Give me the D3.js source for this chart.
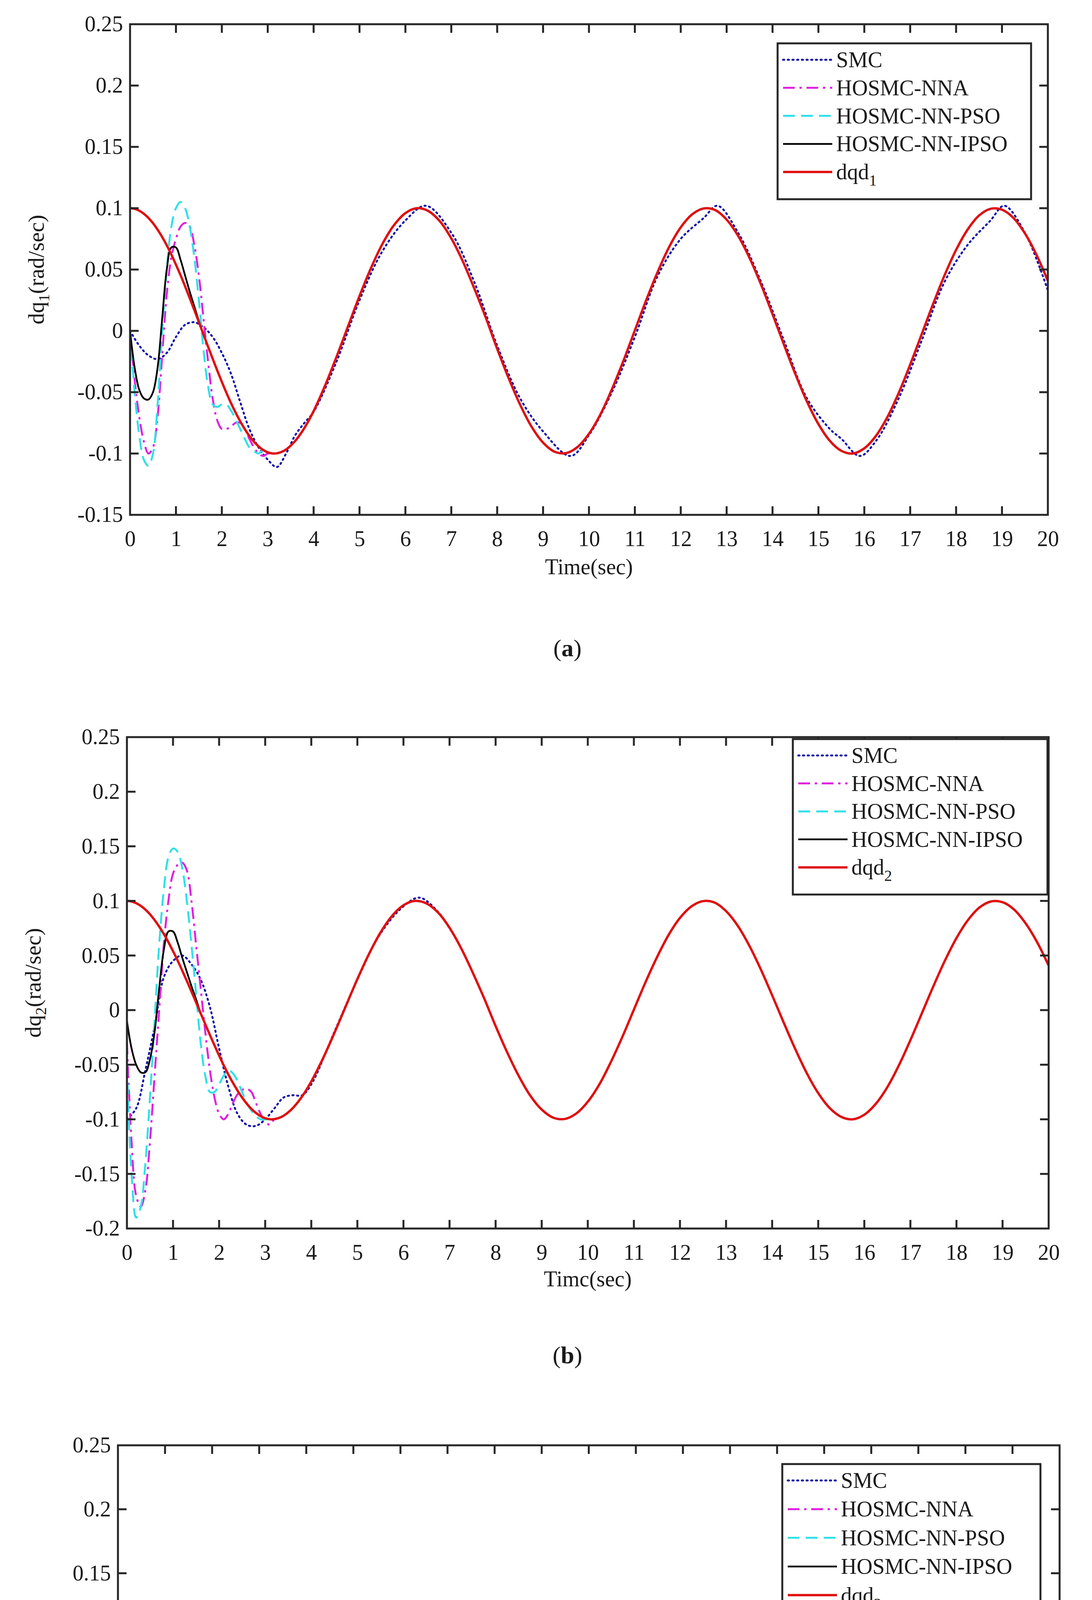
<!DOCTYPE html>
<html>
<head>
<meta charset="utf-8">
<script src="https://cdn.jsdelivr.net/npm/d3@7"></script>
<style>
  body { margin: 0; background: #fff; }
  text { font-family: "Liberation Serif", "DejaVu Serif", serif; fill: #1a1a1a; }
</style>
</head>
<body>
<svg id="chart" width="2796" height="5386"></svg>
<script>
// time grid: 0..4 step 0.1, then 4.25..20 step 0.25
const refTimes = d3.range(0, 4.001, 0.1).map(t => +t.toFixed(2))
  .concat(d3.range(4.25, 20.001, 0.25).map(t => +t.toFixed(2)));

// desired velocity (same in all three panels)
const refValues = [
  0.100, 0.0995, 0.098, 0.0955, 0.0921, 0.0878, 0.0825, 0.0765, 0.0697, 0.0622,
  0.054, 0.0454, 0.0362, 0.0267, 0.017, 0.0071, -0.0029, -0.0129, -0.0227, -0.0323,
  -0.0416, -0.0505, -0.0589, -0.0666, -0.0737, -0.0801, -0.0857, -0.0904, -0.0942, -0.0971,
  -0.099, -0.0999, -0.0998, -0.0987, -0.0967, -0.0936, -0.0897, -0.0848, -0.0791, -0.0726,
  -0.0654,
  -0.0446, -0.0211, 0.0037, 0.0284, 0.0512, 0.0709, 0.0861, 0.0960, 0.1000, 0.0977,
  0.0894, 0.0754, 0.0568, 0.0347, 0.0109, -0.0146, -0.0386, -0.0602, -0.0782, -0.0911,
  -0.0985, -0.0997, -0.0947, -0.0839, -0.0681, -0.0476, -0.0245, 0.0004, 0.0253, 0.0483,
  0.0686, 0.0844, 0.0950, 0.0998, 0.0985, 0.0907, 0.0775, 0.0594, 0.0377, 0.0136,
  -0.0113, -0.0355, -0.0576, -0.0760, -0.0897, -0.0978, -0.1000, -0.0958, -0.0858, -0.0705,
  -0.0506, -0.0275, -0.0028, 0.0220, 0.0454, 0.0660, 0.0825, 0.0940, 0.0995, 0.0988,
  0.0921, 0.0795, 0.0622, 0.0408
];

// transient parts (step 0.1 from t=0, SMC step 0.2); they join the reference afterwards
const ipsoA = [0, -0.03, -0.048, -0.055, -0.056, -0.05, -0.03, 0.01, 0.05, 0.068, 0.068, 0.058, 0.045, 0.032, 0.02, 0.008, -0.003, -0.013];
const nnaA = [0, -0.04, -0.07, -0.09, -0.1, -0.095, -0.07, -0.02, 0.03, 0.06, 0.075, 0.085, 0.088, 0.085, 0.07, 0.045, 0.01, -0.025, -0.055, -0.073, -0.08, -0.08, -0.078, -0.075, -0.075, -0.08, -0.088, -0.095, -0.1, -0.102, -0.1];
const psoA = [0, -0.05, -0.085, -0.105, -0.11, -0.1, -0.06, 0, 0.05, 0.085, 0.1, 0.105, 0.1, 0.085, 0.06, 0.025, -0.015, -0.045, -0.06, -0.062, -0.06, -0.06, -0.065, -0.072, -0.08, -0.088, -0.095, -0.098, -0.1];
const smcA = [0, -0.012, -0.02, -0.023, -0.018, -0.005, 0.005, 0.007, 0.003, -0.005, -0.018, -0.035, -0.058, -0.08, -0.095, -0.105, -0.111, -0.1, -0.085, -0.075, -0.066];
const smcTailA = [[4.5, -0.025], [5, 0.025], [5.5, 0.065], [6, 0.09], [6.45, 0.102], [7, 0.08], [7.5, 0.04], [8, -0.012], [8.5, -0.055], [9, -0.082], [9.6, -0.102], [10, -0.085], [10.5, -0.05], [11, -0.005], [11.5, 0.045], [12, 0.075], [12.5, 0.092], [12.8, 0.102], [13.25, 0.08], [13.75, 0.04], [14.25, -0.008], [14.75, -0.055], [15.25, -0.08], [15.5, -0.088], [15.9, -0.102], [16.25, -0.09], [16.75, -0.055], [17.25, -0.008], [17.75, 0.04], [18.25, 0.07], [18.75, 0.09], [19.05, 0.102], [19.5, 0.08], [20, 0.033]];

const ipsoB = [-0.01, -0.035, -0.05, -0.057, -0.057, -0.045, -0.02, 0.02, 0.055, 0.072, 0.072, 0.062, 0.048, 0.035, 0.022, 0.01];
const nnaB = [-0.03, -0.12, -0.17, -0.18, -0.165, -0.12, -0.06, 0, 0.06, 0.1, 0.125, 0.133, 0.135, 0.128, 0.1, 0.06, 0.02, -0.02, -0.055, -0.08, -0.095, -0.1, -0.095, -0.085, -0.077, -0.073, -0.072, -0.075, -0.085, -0.095, -0.102, -0.105, -0.1];
const psoB = [-0.05, -0.15, -0.19, -0.18, -0.14, -0.08, -0.01, 0.06, 0.11, 0.14, 0.148, 0.145, 0.13, 0.1, 0.06, 0.015, -0.03, -0.06, -0.075, -0.075, -0.068, -0.06, -0.055, -0.058, -0.065, -0.075, -0.085, -0.092, -0.097, -0.1, -0.1];
const smcB = [-0.1, -0.09, -0.055, -0.015, 0.03, 0.045, 0.05, 0.042, 0.028, 0.003, -0.035, -0.07, -0.095, -0.105, -0.106, -0.1, -0.09, -0.08, -0.078, -0.078, -0.068];
const smcTailB = [[4.5, -0.02], [5, 0.028], [5.5, 0.07], [6, 0.095], [6.35, 0.103], [6.75, 0.09], [7, 0.075]];

const ipsoC = [0, -0.03, -0.048, -0.056, -0.055, -0.045, -0.02, 0.03, 0.062, 0.072, 0.07, 0.058, 0.045, 0.032, 0.02, 0.008];
const nnaC = [-0.015, -0.06, -0.1, -0.113, -0.11, -0.085, -0.04, 0.01, 0.05, 0.08, 0.097, 0.103, 0.1, 0.085, 0.06, 0.03, -0.005, -0.04, -0.07, -0.083, -0.08, -0.075, -0.072, -0.073, -0.08, -0.09, -0.1, -0.103, -0.1];
const psoC = [-0.02, -0.075, -0.11, -0.125, -0.115, -0.08, -0.02, 0.04, 0.085, 0.11, 0.118, 0.115, 0.1, 0.075, 0.04, 0, -0.035, -0.052, -0.055, -0.06, -0.07, -0.08, -0.088, -0.095, -0.098, -0.1];
const smcC = [-0.04, -0.035, -0.028, -0.015, 0.005, 0.018, 0.024, 0.02, 0.01, -0.01, -0.04, -0.075, -0.1, -0.11, -0.1, -0.09, -0.08, -0.077, -0.075, -0.07, -0.065];
const smcTailC = [[4.5, -0.02], [5, 0.028], [5.5, 0.07], [6, 0.095], [6.4, 0.102], [6.75, 0.09], [7, 0.075]];

const xTicks = d3.range(0, 21, 1);
const legendNames = ["SMC", "HOSMC-NNA", "HOSMC-NN-PSO", "HOSMC-NN-IPSO", "dqd"];

const ref = refTimes.map((t, i) => [t, refValues[i]]);

// transient values at given step, then continue on the reference
function joinRef(vals, step, tail) {
  const pts = vals.map((v, i) => [+(i * step).toFixed(2), v]);
  const tEnd = pts[pts.length - 1][0];
  if (tail) {
    const tailEnd = tail[tail.length - 1][0];
    return pts.concat(tail, ref.filter(d => d[0] > tailEnd + 0.1));
  }
  return pts.concat(ref.filter(d => d[0] > tEnd + 0.05));
}

const panels = [
  { left: 333, right: 2683, top: 62, bottom: 1318, yDomain: [-0.15, 0.25], idx: "1",
    legend: [1991, 111, 2640, 510], xlab: "Time(sec)", xlabY: 1470, cap: "a", capY: 1680, ylabX: 112,
    series: [joinRef(smcA, 0.2, smcTailA), joinRef(nnaA, 0.1), joinRef(psoA, 0.1), joinRef(ipsoA, 0.1), ref] },
  { left: 325, right: 2685, top: 1887, bottom: 3145, yDomain: [-0.2, 0.25], idx: "2",
    legend: [2030, 1892, 2682, 2290], xlab: "Timc(sec)", xlabY: 3293, cap: "b", capY: 3490, ylabX: 104,
    series: [joinRef(smcB, 0.2, smcTailB), joinRef(nnaB, 0.1), joinRef(psoB, 0.1), joinRef(ipsoB, 0.1), ref] },
  { left: 302, right: 2713, top: 3700, bottom: 5010, yDomain: [-0.15, 0.25], idx: "3",
    legend: [2003, 3748, 2664, 4155], xlab: "Time(sec)", xlabY: 5160, cap: "c", capY: 5325, ylabX: 82,
    series: [joinRef(smcC, 0.2, smcTailC), joinRef(nnaC, 0.1), joinRef(psoC, 0.1), joinRef(ipsoC, 0.1), ref] }
];

const styles = [
  { color: "#1010a8", width: 5, dash: "3,9", cap: "round" },
  { color: "#e020e0", width: 5, dash: "30,12,6,12", cap: "butt" },
  { color: "#30e0e8", width: 5, dash: "30,16", cap: "butt" },
  { color: "#000000", width: 4.5, dash: null, cap: "butt" },
  { color: "#e01010", width: 6, dash: null, cap: "butt" }
];

const svg = d3.select("#chart");
const fmt = d => String(+d.toFixed(2));

panels.forEach(p => {
  const x = d3.scaleLinear().domain([0, 20]).range([p.left, p.right]);
  const y = d3.scaleLinear().domain(p.yDomain).range([p.bottom, p.top]);
  const yTicks = d3.range(p.yDomain[0], p.yDomain[1] + 0.001, 0.05).map(v => +v.toFixed(2));
  const g = svg.append("g");

  const clipId = "clip" + p.idx;
  g.append("clipPath").attr("id", clipId).append("rect")
    .attr("x", p.left).attr("y", p.top).attr("width", p.right - p.left).attr("height", p.bottom - p.top);

  const line = d3.line().x(d => x(d[0])).y(d => y(d[1])).curve(d3.curveCatmullRom.alpha(0.5));
  p.series.forEach((s, i) => {
    const st = styles[i];
    g.append("path").datum(s)
      .attr("clip-path", `url(#${clipId})`)
      .attr("d", line).attr("fill", "none")
      .attr("stroke", st.color).attr("stroke-width", st.width)
      .attr("stroke-dasharray", st.dash).attr("stroke-linecap", st.cap);
  });

  const tickLen = 22, axisColor = "#262626";
  const axB = d3.axisBottom(x).tickValues(xTicks).tickSize(0).tickPadding(40).tickFormat(d3.format("d"));
  const axL = d3.axisLeft(y).tickValues(yTicks).tickSize(0).tickPadding(18).tickFormat(fmt);
  g.append("g").attr("transform", `translate(0,${p.bottom})`).call(axB)
    .call(a => a.select(".domain").remove())
    .selectAll("text").attr("font-size", 56).attr("fill", "#1a1a1a");
  g.append("g").attr("transform", `translate(${p.left},0)`).call(axL)
    .call(a => a.select(".domain").remove())
    .selectAll("text").attr("font-size", 56).attr("fill", "#1a1a1a");

  // inward ticks on all four sides
  xTicks.slice(1, -1).forEach(t => {
    g.append("line").attr("x1", x(t)).attr("x2", x(t)).attr("y1", p.bottom).attr("y2", p.bottom - tickLen)
      .attr("stroke", axisColor).attr("stroke-width", 5);
    g.append("line").attr("x1", x(t)).attr("x2", x(t)).attr("y1", p.top).attr("y2", p.top + tickLen)
      .attr("stroke", axisColor).attr("stroke-width", 5);
  });
  yTicks.slice(1, -1).forEach(v => {
    g.append("line").attr("x1", p.left).attr("x2", p.left + tickLen).attr("y1", y(v)).attr("y2", y(v))
      .attr("stroke", axisColor).attr("stroke-width", 5);
    g.append("line").attr("x1", p.right).attr("x2", p.right - tickLen).attr("y1", y(v)).attr("y2", y(v))
      .attr("stroke", axisColor).attr("stroke-width", 5);
  });
  g.append("rect").attr("x", p.left).attr("y", p.top)
    .attr("width", p.right - p.left).attr("height", p.bottom - p.top)
    .attr("fill", "none").attr("stroke", axisColor).attr("stroke-width", 5);

  // axis labels
  g.append("text").attr("x", (p.left + p.right) / 2).attr("y", p.xlabY)
    .attr("text-anchor", "middle").attr("font-size", 56).text(p.xlab);
  const yl = g.append("text")
    .attr("transform", `translate(${p.ylabX},${(p.top + p.bottom) / 2}) rotate(-90)`)
    .attr("text-anchor", "middle").attr("font-size", 58);
  yl.append("tspan").text("dq");
  yl.append("tspan").attr("font-size", 40).attr("dy", 14).text(p.idx);
  yl.append("tspan").attr("dy", -14).text("(rad/sec)");

  // legend
  const [lx0, ly0, lx1, ly1] = p.legend;
  g.append("rect").attr("x", lx0).attr("y", ly0).attr("width", lx1 - lx0).attr("height", ly1 - ly0)
    .attr("fill", "#fff").attr("stroke", axisColor).attr("stroke-width", 5);
  const rowH = (ly1 - ly0 - 40) / 5;
  legendNames.forEach((name, i) => {
    const st = styles[i];
    const ry = ly0 + 42 + i * rowH;
    g.append("line").attr("x1", lx0 + 14).attr("x2", lx0 + 140).attr("y1", ry).attr("y2", ry)
      .attr("stroke", st.color).attr("stroke-width", st.width)
      .attr("stroke-dasharray", st.dash).attr("stroke-linecap", st.cap);
    const tx = g.append("text").attr("x", lx0 + 150).attr("y", ry + 19).attr("font-size", 56);
    tx.append("tspan").text(name);
    if (i === 4) tx.append("tspan").attr("font-size", 40).attr("dy", 16).text(p.idx);
  });

  // caption
  const cap = g.append("text").attr("x", 1453).attr("y", p.capY).attr("text-anchor", "middle").attr("font-size", 62);
  cap.append("tspan").text("(");
  cap.append("tspan").attr("font-weight", "bold").text(p.cap);
  cap.append("tspan").text(")");
});
</script>
</body>
</html>
